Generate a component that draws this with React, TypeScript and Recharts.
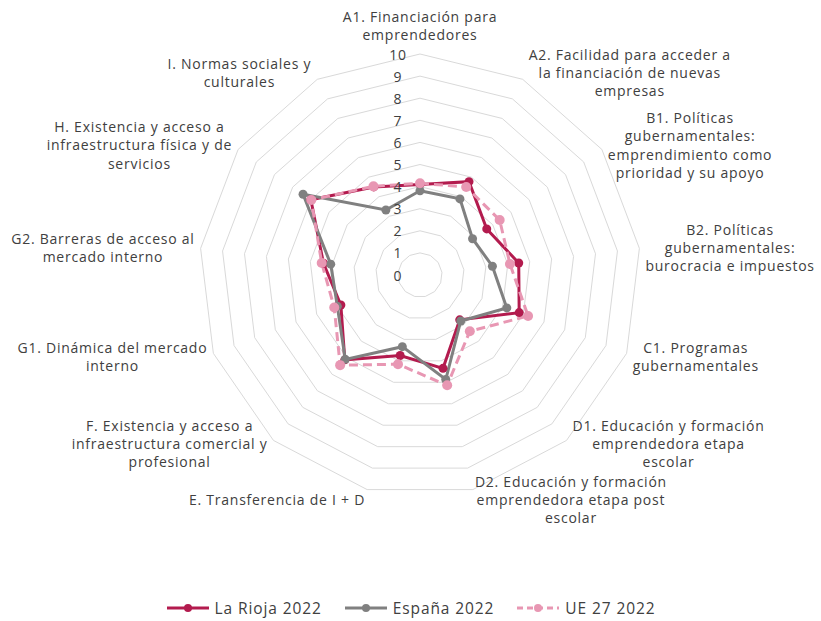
import React from "react";
import {
  Legend,
  PolarAngleAxis,
  PolarGrid,
  PolarRadiusAxis,
  Radar,
  RadarChart,
} from "recharts";

const CATEGORIES = ["A1", "A2", "B1", "B2", "C1", "D1", "D2", "E", "F", "G1", "G2", "H", "I"];

const CATEGORY_LABELS: string[][] = [
  ["A1. Financiación para", "emprendedores"],
  ["A2. Facilidad para acceder a", "la financiación de nuevas", "empresas"],
  ["B1. Políticas", "gubernamentales:", "emprendimiento como", "prioridad y su apoyo"],
  ["B2. Políticas", "gubernamentales:", "burocracia e impuestos"],
  ["C1. Programas", "gubernamentales"],
  ["D1. Educación y formación", "emprendedora etapa", "escolar"],
  ["D2. Educación y formación", "emprendedora etapa post", "escolar"],
  ["E. Transferencia de I + D"],
  ["F. Existencia y acceso a", "infraestructura comercial y", "profesional"],
  ["G1. Dinámica del mercado", "interno"],
  ["G2. Barreras de acceso al", "mercado interno"],
  ["H. Existencia y acceso a", "infraestructura física y de", "servicios"],
  ["I. Normas sociales y", "culturales"],
];

const LA_RIOJA = [4.1, 4.77, 3.67, 4.5, 4.8, 2.71, 4.35, 3.75, 5.13, 3.83, 4.4, 6.0, 4.5];
const ESPANA = [3.81, 3.89, 2.89, 3.3, 4.2, 2.78, 4.87, 3.34, 5.1, 4.0, 4.07, 6.43, 3.32];
const UE27 = [4.15, 4.5, 4.38, 4.1, 5.23, 3.4, 5.14, 4.16, 5.45, 4.15, 4.48, 5.98, 4.53];

const SERIES = [
  { key: "rioja", name: "La Rioja 2022", color: "#B31B4E", dash: undefined as string | undefined, r: 4.5 },
  { key: "espana", name: "España 2022", color: "#808080", dash: undefined as string | undefined, r: 4.5 },
  { key: "ue", name: "UE 27 2022", color: "#E897B3", dash: "9 5", r: 5 },
];

const data = CATEGORIES.map((c, i) => ({
  cat: c,
  rioja: LA_RIOJA[i],
  espana: ESPANA[i],
  ue: UE27[i],
}));

const W = 821;
const H = 621;
const CX = 420;
const CY = 275;
const R = 221;
const FONT = "'Open Sans', sans-serif";
const FONT_SIZE = 14;
const LS = 0.75;
const LINE_H = 18.2;
const TEXT = "#404040";

let ctx: CanvasRenderingContext2D | null = null;
function textWidth(s: string) {
  if (!ctx) {
    ctx = document.createElement("canvas").getContext("2d");
  }
  if (!ctx) return s.length * 7.3;
  ctx.font = `${FONT_SIZE}px 'Open Sans'`;
  return ctx.measureText(s).width + s.length * LS;
}

function AngleTick(props: any) {
  const { x, y, index } = props;
  const lines = CATEGORY_LABELS[index] ?? [];
  const dx = x - CX;
  const dy = y - CY;
  const len = Math.sqrt(dx * dx + dy * dy) || 1;
  const cos = dx / len;
  const sin = -dy / len;
  const vx = CX + R * cos;
  const vy = CY - R * sin;
  const w = Math.max(...lines.map(textWidth));
  const h = lines.length * LINE_H;
  let mx = vx;
  let my = vy;
  if (Math.abs(cos) < 0.05) {
    my = vy - 10 - h / 2;
  } else {
    const gap = Math.abs(cos) < 0.3 ? 2 : 6;
    mx = vx + Math.sign(cos) * (gap + w / 2);
    my = vy - 8 * sin;
    // keep the two lower-right blocks apart
    if (sin < -0.6) my += Math.abs(cos) < 0.3 ? 2 : -3;
  }
  return (
    <text fontFamily={FONT} fontSize={FONT_SIZE} fill={TEXT} textAnchor="middle" letterSpacing={LS}>
      {lines.map((l, i) => (
        <tspan key={i} x={mx} y={my - h / 2 + LINE_H * (i + 0.5)} dominantBaseline="central">
          {l}
        </tspan>
      ))}
    </text>
  );
}

function RadiusTick(props: any) {
  const { x, y, payload } = props;
  return (
    <text
      x={x - 22}
      y={y}
      textAnchor="middle"
      dominantBaseline="central"
      fontFamily={FONT}
      fontSize={FONT_SIZE}
      letterSpacing={LS}
      fill={TEXT}
    >
      {payload.value}
    </text>
  );
}

function LegendContent() {
  return (
    <div
      style={{
        display: "flex",
        justifyContent: "center",
        alignItems: "center",
        gap: 22,
        fontFamily: FONT,
        fontSize: 15.5,
        letterSpacing: 0.9,
        color: TEXT,
      }}
    >
      {SERIES.map((s) => (
        <div key={s.key} style={{ display: "flex", alignItems: "center", gap: 5 }}>
          <svg width={44} height={12}>
            <line
              x1={1}
              y1={6}
              x2={43}
              y2={6}
              stroke={s.color}
              strokeWidth={3}
              strokeDasharray={s.dash ? "6 4" : undefined}
            />
            <circle cx={22} cy={6} r={4} fill={s.color} />
          </svg>
          <span>{s.name}</span>
        </div>
      ))}
    </div>
  );
}

function makeDot(color: string, r: number) {
  return (p: any) => (
    <circle key={`d-${p.index}`} cx={p.cx} cy={p.cy} r={r} fill={color} stroke="none" />
  );
}

export default function App() {
  return (
    <div style={{ position: "absolute", left: 0, top: 0, width: W, height: H, background: "#fff" }}>
      <RadarChart width={W} height={H} data={data} cx={CX} cy={CY} outerRadius={R} startAngle={90} endAngle={-270}>
        <PolarGrid gridType="polygon" radialLines={false} stroke="#d9d9d9" strokeWidth={1} />
        <PolarAngleAxis dataKey="cat" tick={<AngleTick />} tickLine={false} axisLine={false} />
        <PolarRadiusAxis
          angle={90}
          domain={[0, 10]}
          tickCount={11}
          axisLine={false}
          tickLine={false}
          tick={<RadiusTick />}
        />
        {SERIES.map((s) => (
          <Radar
            key={s.key}
            dataKey={s.key}
            name={s.name}
            stroke={s.color}
            strokeWidth={3}
            strokeDasharray={s.dash}
            fill="none"
            fillOpacity={0}
            dot={makeDot(s.color, s.r)}
            isAnimationActive={false}
          />
        ))}
        <Legend verticalAlign="bottom" content={<LegendContent />} wrapperStyle={{ bottom: 2 }} />
      </RadarChart>
    </div>
  );
}
